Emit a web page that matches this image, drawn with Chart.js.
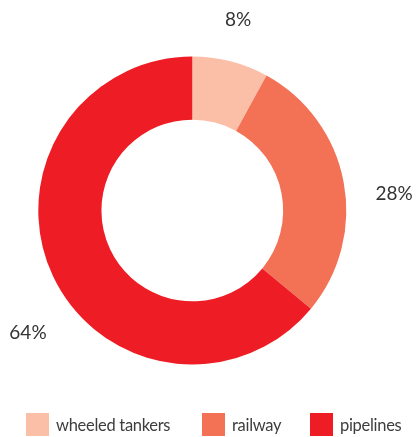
<!DOCTYPE html>
<html>
<head>
<meta charset="utf-8">
<script src="https://cdn.jsdelivr.net/npm/chart.js@4/dist/chart.umd.min.js"></script>
<style>
  html, body { margin: 0; padding: 0; background: #fff; }
  #wrap { position: relative; width: 417px; height: 437px; }
  #chart { position: absolute; left: 0; top: 0; }
  #legend {
    position: absolute; left: 26px; top: 413px; height: 23px;
    display: flex; align-items: center;
    font-family: Lato, "Open Sans", sans-serif; font-size: 16.5px; letter-spacing: -0.3px; color: #3d3d3d;
  }
  .item { display: flex; align-items: center; }
  .swatch { width: 23px; height: 23px; margin-right: 7px; flex: none; }
</style>
</head>
<body>
<div id="wrap">
  <canvas id="chart" width="417" height="437"></canvas>
  <div id="legend"></div>
</div>
<script>
// Transport modes and their share of the total
const categories = ['wheeled tankers', 'railway', 'pipelines'];
const shares = [8, 28, 64];
const shareLabels = ['8%', '28%', '64%'];
const colors = ['#FBBFA7', '#F37155', '#EE1D25'];

// Where each percentage sits, in units of the outer radius from the ring centre
const labelAnchors = [[0.297, -1.237], [1.310, -0.107], [-1.067, 0.795]];

const shareLabelPlugin = {
  id: 'shareLabels',
  afterDatasetsDraw(chart) {
    const arcs = chart.getDatasetMeta(0).data;
    const ctx = chart.ctx;
    ctx.save();
    ctx.font = '19px Lato, "Open Sans", sans-serif';
    ctx.fillStyle = '#333333';
    ctx.textAlign = 'center';
    ctx.textBaseline = 'middle';
    arcs.forEach((arc, i) => {
      const r = arc.outerRadius;
      ctx.fillText(shareLabels[i], arc.x + labelAnchors[i][0] * r, arc.y + labelAnchors[i][1] * r);
    });
    ctx.restore();
  }
};

new Chart(document.getElementById('chart'), {
  type: 'doughnut',
  data: {
    labels: categories,
    datasets: [{
      data: shares,
      backgroundColor: colors,
      borderWidth: 0,
      hoverOffset: 0
    }]
  },
  options: {
    responsive: false,
    animation: false,
    events: [],
    cutout: '59%',
    layout: { padding: { top: 56.5, bottom: 72.5, left: 0, right: 32.4 } },
    plugins: {
      legend: { display: false },
      tooltip: { enabled: false }
    }
  },
  plugins: [shareLabelPlugin]
});

// Legend row built from the same categories and colours
const legend = document.getElementById('legend');
const itemWidths = [176, 108, null];
categories.forEach((name, i) => {
  const item = document.createElement('div');
  item.className = 'item';
  if (itemWidths[i]) item.style.width = itemWidths[i] + 'px';
  const sw = document.createElement('span');
  sw.className = 'swatch';
  sw.style.background = colors[i];
  const txt = document.createElement('span');
  txt.textContent = name;
  item.appendChild(sw);
  item.appendChild(txt);
  legend.appendChild(item);
});
</script>
</body>
</html>
